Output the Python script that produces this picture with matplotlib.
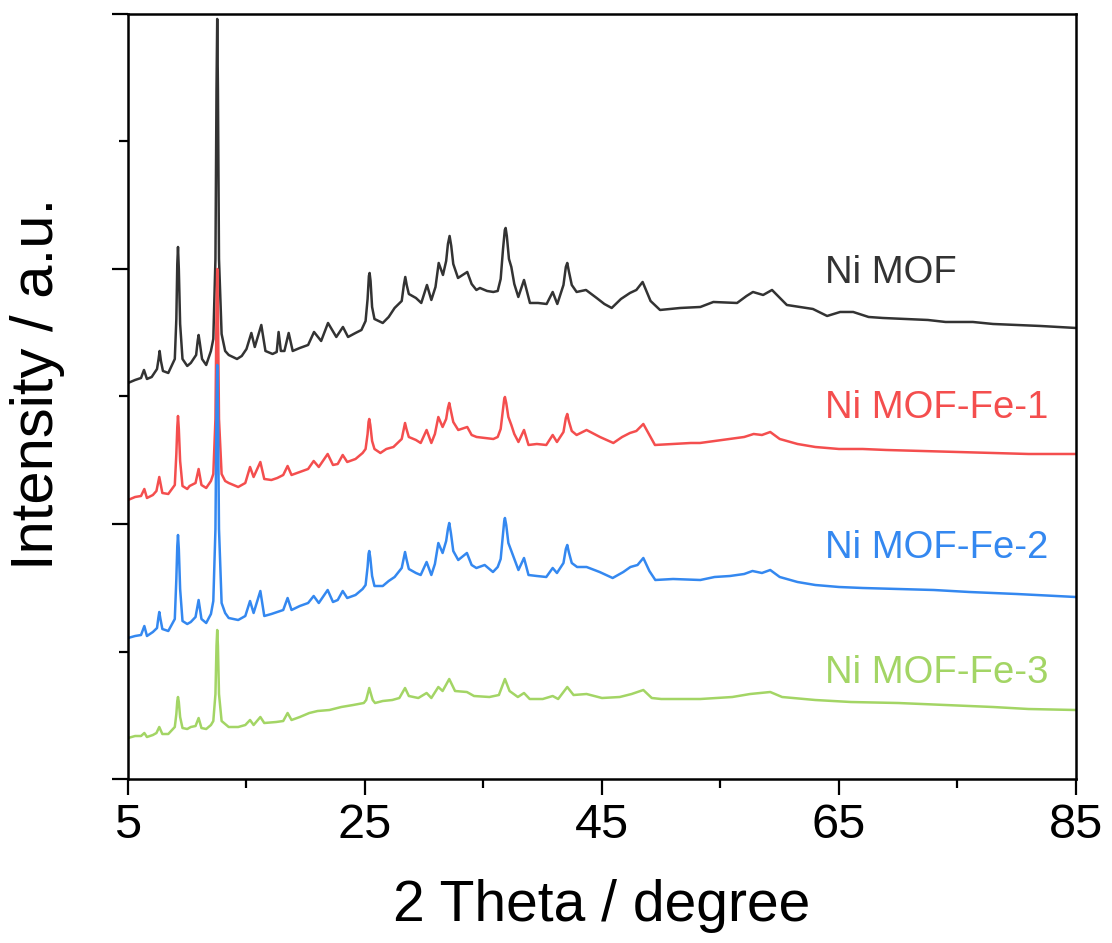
import numpy as np
import matplotlib
matplotlib.use("Agg")
import matplotlib.pyplot as plt
from matplotlib.ticker import FixedLocator

plt.rcParams['font.family'] = ['Liberation Sans', 'DejaVu Sans']

# traced XRD patterns (2 theta, stacked intensity in a.u.)
ni_mof = [
    (5.0, 396), (5.6, 399), (6.1, 401), (6.35, 409), (6.6, 400), (7.0, 402),
    (7.45, 410), (7.58, 420), (7.67, 428), (7.78, 418), (7.95, 408), (8.4, 406),
    (8.95, 420), (9.08, 460), (9.16, 515), (9.22, 532), (9.29, 510), (9.4, 455),
    (9.6, 420), (10.0, 413), (10.3, 416), (10.75, 424), (10.88, 438), (10.96, 444),
    (11.05, 437), (11.25, 420), (11.6, 414), (12.0, 428), (12.2, 440), (12.38, 520),
    (12.47, 690), (12.53, 760), (12.59, 690), (12.68, 520), (12.9, 445), (13.2, 428),
    (13.5, 424), (14.2, 420), (14.6, 423), (15.0, 430), (15.41, 446), (15.7, 432),
    (16.25, 454), (16.6, 428), (17.2, 425), (17.55, 427), (17.71, 447), (17.9, 428),
    (18.2, 428), (18.56, 446), (18.9, 428), (19.5, 431), (20.2, 434), (20.7, 447),
    (21.3, 438), (21.88, 456), (22.58, 442), (23.14, 452), (23.57, 442), (24.2, 446),
    (24.7, 449), (25.05, 458), (25.22, 480), (25.33, 503), (25.39, 506), (25.47, 498),
    (25.6, 472), (25.8, 460), (26.5, 456), (27.0, 462), (27.5, 471), (28.1, 478),
    (28.28, 494), (28.4, 502), (28.52, 494), (28.7, 485), (29.3, 481), (29.75, 476),
    (30.23, 494), (30.6, 479), (30.95, 492), (31.22, 516), (31.58, 504), (31.85, 518),
    (32.0, 535), (32.14, 543), (32.28, 533), (32.45, 515), (32.85, 501), (33.63, 507),
    (34.0, 495), (34.4, 489), (34.7, 491), (35.3, 488), (35.83, 487), (36.2, 488),
    (36.45, 500), (36.65, 530), (36.8, 549), (36.87, 551), (36.97, 543), (37.15, 520),
    (37.35, 512), (37.6, 495), (37.94, 482), (38.42, 499), (38.92, 476), (39.6, 476),
    (40.33, 475), (40.84, 487), (41.23, 475), (41.75, 494), (41.95, 512), (42.07, 516),
    (42.2, 508), (42.45, 494), (42.86, 487), (43.65, 489), (44.55, 481), (45.2, 475),
    (45.82, 471), (46.6, 480), (47.36, 486), (47.9, 489), (48.43, 497), (49.1, 478),
    (49.9, 469), (51.6, 471), (53.3, 472), (54.4, 477), (56.4, 476), (57.2, 483),
    (57.74, 487), (58.6, 484), (59.35, 489), (60.6, 474), (62.8, 470), (64.0, 463),
    (65.1, 467), (66.2, 467), (67.5, 462), (68.7, 461), (70.5, 460), (72.5, 459),
    (74.0, 457), (76.3, 457), (78.0, 455), (80.0, 454), (82.0, 453), (85.0, 451),
]

ni_mof_fe1 = [
    (5.0, 279), (5.6, 282), (6.1, 283), (6.38, 290), (6.6, 281), (7.1, 284),
    (7.4, 288), (7.64, 302), (7.9, 286), (8.4, 285), (8.95, 294), (9.08, 325),
    (9.16, 352), (9.22, 363), (9.29, 350), (9.4, 318), (9.6, 293), (10.0, 290),
    (10.2, 293), (10.7, 296), (10.96, 310), (11.2, 294), (11.6, 291), (12.0, 298),
    (12.2, 305), (12.38, 360), (12.47, 470), (12.53, 510), (12.59, 470), (12.68, 360),
    (12.9, 305), (13.2, 298), (13.5, 296), (14.3, 292), (14.9, 296), (15.3, 312),
    (15.6, 302), (16.17, 317), (16.5, 300), (17.1, 299), (17.6, 301), (18.1, 304),
    (18.47, 313), (18.8, 304), (19.5, 307), (20.2, 310), (20.67, 318), (21.1, 312),
    (21.85, 325), (22.3, 314), (22.7, 315), (23.12, 324), (23.5, 317), (24.2, 320),
    (24.8, 326), (25.05, 330), (25.22, 345), (25.3, 357), (25.36, 360), (25.45, 354),
    (25.6, 338), (25.8, 330), (26.3, 326), (26.8, 330), (27.4, 332), (28.1, 340),
    (28.27, 350), (28.38, 356), (28.5, 350), (28.7, 342), (29.3, 339), (29.7, 336),
    (30.2, 349), (30.6, 336), (30.9, 345), (31.19, 362), (31.55, 352), (31.85, 360),
    (32.0, 371), (32.11, 376), (32.25, 368), (32.45, 357), (32.87, 349), (33.63, 352),
    (34.0, 344), (34.42, 342), (35.1, 341), (35.83, 340), (36.2, 342), (36.45, 350),
    (36.63, 368), (36.75, 380), (36.81, 382), (36.92, 376), (37.1, 362), (37.35, 354),
    (37.6, 345), (37.95, 337), (38.42, 349), (38.8, 334), (39.5, 335), (40.3, 334),
    (40.84, 344), (41.2, 337), (41.75, 347), (41.95, 361), (42.07, 365), (42.2, 358),
    (42.45, 348), (42.86, 344), (43.7, 349), (44.83, 342), (45.96, 336), (46.7, 342),
    (47.36, 346), (47.9, 348), (48.49, 355), (49.47, 334), (51.0, 335), (52.5, 336),
    (53.27, 336), (54.5, 338), (55.7, 340), (57.0, 342), (57.8, 345), (58.5, 344),
    (59.2, 347), (60.0, 340), (61.5, 335), (63.0, 332), (65.0, 330), (67.0, 330),
    (69.0, 329), (72.0, 328), (75.0, 327), (78.0, 326), (81.0, 325), (85.0, 325),
]

ni_mof_fe2 = [
    (5.0, 141), (5.6, 143), (6.1, 144), (6.38, 153), (6.6, 143), (7.1, 147),
    (7.45, 151), (7.56, 161), (7.64, 167), (7.74, 160), (7.9, 150), (8.4, 148),
    (8.95, 160), (9.08, 200), (9.16, 233), (9.22, 244), (9.29, 230), (9.4, 190),
    (9.6, 158), (10.0, 155), (10.3, 157), (10.7, 162), (10.96, 179), (11.2, 160),
    (11.6, 156), (12.0, 165), (12.2, 178), (12.38, 250), (12.47, 370), (12.53, 414),
    (12.59, 370), (12.68, 250), (12.9, 176), (13.2, 166), (13.5, 161), (14.3, 159),
    (14.9, 163), (15.3, 178), (15.6, 166), (16.17, 188), (16.5, 163), (17.1, 165),
    (17.6, 167), (18.1, 169), (18.47, 181), (18.8, 169), (19.5, 173), (20.2, 176),
    (20.67, 183), (21.1, 176), (21.85, 189), (22.3, 177), (22.7, 179), (23.12, 188),
    (23.5, 181), (24.2, 184), (24.8, 190), (25.05, 194), (25.22, 212), (25.3, 225),
    (25.36, 228), (25.45, 221), (25.6, 203), (25.8, 193), (26.5, 193), (27.0, 198),
    (27.5, 202), (28.1, 211), (28.27, 221), (28.38, 227), (28.5, 220), (28.7, 210),
    (29.3, 206), (29.7, 204), (30.2, 217), (30.6, 204), (30.9, 215), (31.19, 236),
    (31.55, 226), (31.85, 238), (32.0, 250), (32.11, 256), (32.25, 246), (32.45, 228),
    (32.87, 219), (33.6, 226), (34.0, 214), (34.4, 211), (35.1, 214), (35.8, 207),
    (36.2, 212), (36.45, 220), (36.63, 243), (36.75, 258), (36.81, 261), (36.92, 254),
    (37.1, 236), (37.35, 228), (37.6, 220), (37.95, 209), (38.42, 221), (38.8, 204),
    (39.5, 203), (40.3, 202), (40.84, 211), (41.2, 206), (41.75, 216), (41.95, 230),
    (42.07, 234), (42.2, 227), (42.45, 216), (42.9, 212), (43.7, 212), (44.8, 207),
    (45.9, 201), (46.8, 207), (47.4, 212), (48.0, 214), (48.49, 221), (49.0, 208),
    (49.5, 199), (51.0, 200), (53.3, 199), (54.5, 202), (55.8, 203), (57.0, 205),
    (57.7, 208), (58.5, 206), (59.2, 209), (60.0, 202), (61.5, 197), (63.0, 194),
    (65.0, 192), (67.0, 191), (70.0, 190), (73.0, 189), (76.0, 187), (80.0, 185),
    (85.0, 182),
]

ni_mof_fe3 = [
    (5.0, 41), (5.6, 43), (6.1, 43), (6.38, 46), (6.6, 42), (7.1, 44),
    (7.4, 46), (7.64, 52), (7.9, 45), (8.4, 45), (8.95, 52), (9.08, 65),
    (9.16, 78), (9.22, 82), (9.29, 77), (9.4, 62), (9.6, 51), (10.0, 50),
    (10.3, 52), (10.7, 53), (10.96, 61), (11.2, 51), (11.6, 50), (12.0, 54),
    (12.2, 58), (12.38, 85), (12.47, 133), (12.53, 149), (12.59, 133), (12.68, 85),
    (12.9, 58), (13.5, 52), (14.3, 52), (14.9, 54), (15.3, 59), (15.6, 54),
    (16.17, 62), (16.5, 56), (17.5, 57), (18.1, 58), (18.47, 66), (18.8, 59),
    (19.5, 62), (20.3, 66), (21.0, 68), (22.0, 69), (23.0, 72), (24.0, 74),
    (24.9, 76), (25.1, 79), (25.25, 86), (25.36, 91), (25.48, 86), (25.65, 79),
    (25.85, 76), (26.5, 78), (27.3, 79), (27.9, 81), (28.38, 91), (28.7, 83),
    (29.5, 81), (30.2, 86), (30.6, 81), (31.19, 92), (31.55, 88), (32.11, 100),
    (32.6, 88), (33.6, 87), (34.2, 83), (35.5, 82), (36.3, 84), (36.81, 100),
    (37.2, 88), (37.9, 82), (38.42, 86), (38.9, 80), (40.0, 80), (40.84, 83),
    (41.3, 80), (42.07, 92), (42.6, 84), (43.7, 85), (45.0, 81), (46.5, 82),
    (47.5, 85), (48.49, 89), (49.2, 81), (50.0, 80), (53.3, 80), (56.0, 82),
    (57.5, 85), (59.2, 87), (60.2, 82), (63.0, 79), (66.0, 77), (70.0, 76),
    (74.0, 74), (78.0, 72), (81.0, 70), (85.0, 69),
]

labels = ['Ni MOF', 'Ni MOF-Fe-1', 'Ni MOF-Fe-2', 'Ni MOF-Fe-3']
label_y = [496, 361, 221, 96]
colors = ['#333333', '#f44e4e', '#3488f0', '#a3d565']

x_major = [5, 25, 45, 65, 85]
x_minor = [15, 35, 55, 75]

fig = plt.figure(figsize=(11.12, 9.43), dpi=100)
ax = fig.add_axes([0.1151, 0.1739, 0.8525, 0.8113])

for data, lab, ly, c in zip([ni_mof, ni_mof_fe1, ni_mof_fe2, ni_mof_fe3], labels, label_y, colors):
    arr = np.array(data)
    ax.plot(arr[:, 0], arr[:, 1], color=c, lw=1.8)
    ax.text(63.8, ly, lab, color=c, fontsize=27.5, ha='left', va='baseline')

ax.set_xlim(5, 85)
ax.set_ylim(0, 765)
ax.xaxis.set_major_locator(FixedLocator(x_major))
ax.xaxis.set_minor_locator(FixedLocator(x_minor))
ax.yaxis.set_major_locator(FixedLocator([0, 255, 510, 765]))
ax.yaxis.set_minor_locator(FixedLocator([127.5, 382.5, 637.5]))
ax.tick_params(which='major', direction='out', length=11.5, width=1.6, labelsize=35, pad=6)
ax.tick_params(which='minor', direction='out', length=6.5, width=1.6)
ax.tick_params(axis='y', which='both', labelleft=False)
for sp in ax.spines.values():
    sp.set_linewidth(1.8)

ax.set_xlabel('2 Theta / degree', fontsize=41, labelpad=22)
ax.set_ylabel('Intensity / a.u.', fontsize=43)
ax.yaxis.set_label_coords(-0.066, 0.516)

fig.savefig('out.png', dpi=100)
